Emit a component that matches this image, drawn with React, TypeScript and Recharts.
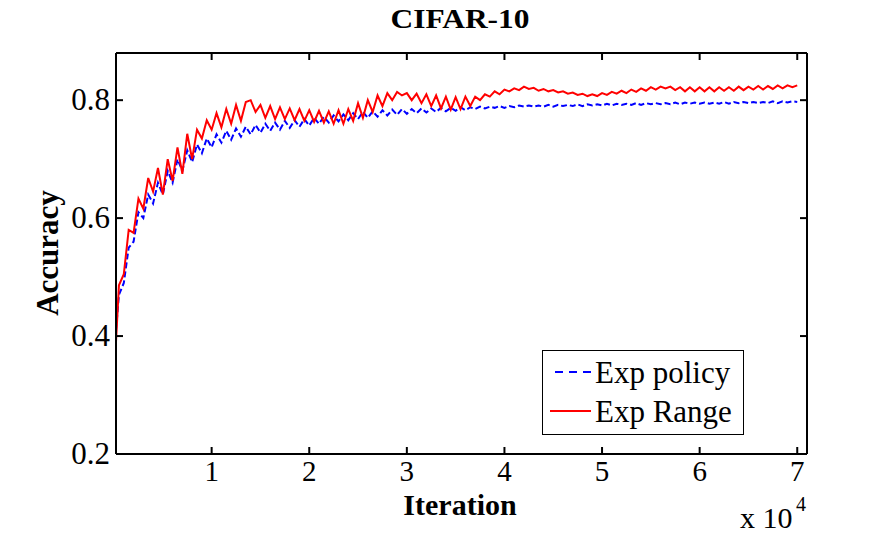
import React from 'react';
import { LineChart, Line, XAxis, YAxis, Legend, Customized } from 'recharts';

const iterations = [
  200, 500, 1000, 1500, 2000, 2500, 3000, 3500, 4000, 4500,
  5000, 5500, 6000, 6500, 7000, 7500, 8000, 8500, 9000, 9500,
  10000, 10500, 11000, 11500, 12000, 12500, 13000, 13500, 14000, 14500,
  15000, 15500, 16000, 16500, 17000, 17500, 18000, 18500, 19000, 19500,
  20000, 20500, 21000, 21500, 22000, 22500, 23000, 23500, 24000, 24500,
  25000, 25500, 26000, 26500, 27000, 27500, 28000, 28500, 29000, 29500,
  30000, 30500, 31000, 31500, 32000, 32500, 33000, 33500, 34000, 34500,
  35000, 35500, 36000, 36500, 37000, 37500, 38000, 38500, 39000, 39500,
  40000, 40500, 41000, 41500, 42000, 42500, 43000, 43500, 44000, 44500,
  45000, 45500, 46000, 46500, 47000, 47500, 48000, 48500, 49000, 49500,
  50000, 50500, 51000, 51500, 52000, 52500, 53000, 53500, 54000, 54500,
  55000, 55500, 56000, 56500, 57000, 57500, 58000, 58500, 59000, 59500,
  60000, 60500, 61000, 61500, 62000, 62500, 63000, 63500, 64000, 64500,
  65000, 65500, 66000, 66500, 67000, 67500, 68000, 68500, 69000, 69500,
  70000,
];

const expPolicy = [
  0.41, 0.47, 0.49, 0.55, 0.56, 0.61, 0.60, 0.64, 0.625, 0.66,
  0.64, 0.68, 0.66, 0.70, 0.68, 0.715, 0.695, 0.725, 0.71, 0.735,
  0.72, 0.742, 0.728, 0.748, 0.733, 0.752, 0.738, 0.755, 0.742, 0.758,
  0.745, 0.76, 0.748, 0.762, 0.75, 0.765, 0.753, 0.766, 0.755, 0.768,
  0.757, 0.77, 0.76, 0.772, 0.762, 0.774, 0.764, 0.776, 0.766, 0.778,
  0.768, 0.78, 0.77, 0.781, 0.772, 0.783, 0.774, 0.784, 0.775, 0.785,
  0.777, 0.785, 0.778, 0.786, 0.779, 0.786, 0.78, 0.787, 0.781, 0.787,
  0.782, 0.788, 0.783, 0.788, 0.785, 0.789, 0.786, 0.789, 0.787, 0.79,
  0.787, 0.79, 0.788, 0.791, 0.789, 0.791, 0.789, 0.791, 0.789, 0.792,
  0.789, 0.792, 0.79, 0.792, 0.79, 0.793, 0.79, 0.793, 0.791, 0.793,
  0.791, 0.794, 0.791, 0.794, 0.792, 0.794, 0.792, 0.795, 0.792, 0.795,
  0.793, 0.795, 0.793, 0.795, 0.793, 0.796, 0.793, 0.796, 0.794, 0.796,
  0.794, 0.796, 0.794, 0.796, 0.794, 0.797, 0.794, 0.797, 0.795, 0.797,
  0.795, 0.797, 0.795, 0.797, 0.795, 0.798, 0.795, 0.798, 0.796, 0.798,
  0.797,
];

const expRange = [
  0.39, 0.486, 0.505, 0.58, 0.575, 0.633, 0.616, 0.668, 0.645, 0.685,
  0.64, 0.70, 0.663, 0.72, 0.675, 0.743, 0.70, 0.75, 0.735, 0.766,
  0.75, 0.778, 0.754, 0.785, 0.76, 0.792, 0.765, 0.797, 0.80, 0.78,
  0.792, 0.77, 0.79, 0.768, 0.788, 0.768, 0.786, 0.766, 0.785, 0.765,
  0.783, 0.763, 0.782, 0.762, 0.781, 0.76, 0.783, 0.76, 0.785, 0.765,
  0.795, 0.77, 0.80, 0.78, 0.808, 0.79, 0.812, 0.80, 0.814, 0.808,
  0.812, 0.80, 0.811, 0.795, 0.81, 0.79, 0.808, 0.786, 0.806, 0.784,
  0.805, 0.785, 0.806, 0.79, 0.806, 0.80, 0.81, 0.806, 0.815, 0.81,
  0.818, 0.815, 0.82, 0.817, 0.823, 0.819, 0.821, 0.816, 0.819, 0.815,
  0.817, 0.813, 0.815, 0.811, 0.813, 0.809, 0.811, 0.807, 0.81, 0.807,
  0.812, 0.809, 0.814, 0.811, 0.816, 0.812, 0.818, 0.814, 0.82, 0.816,
  0.822, 0.818, 0.823, 0.82, 0.823, 0.817, 0.822, 0.815, 0.822, 0.815,
  0.822, 0.815, 0.822, 0.815, 0.822, 0.816, 0.822, 0.816, 0.823, 0.817,
  0.823, 0.818, 0.824, 0.818, 0.824, 0.819, 0.825, 0.82, 0.825, 0.822,
  0.825,
];

const xTicks = [10000, 20000, 30000, 40000, 50000, 60000, 70000];
const yTicks = [0.2, 0.4, 0.6, 0.8];
const seriesNames = ['Exp policy', 'Exp Range'];
const titleText = 'CIFAR-10';
const xLabel = 'Iteration';
const yLabel = 'Accuracy';

const data = iterations.map((it, i) => ({ it, policy: expPolicy[i], range: expRange[i] }));

const FONT = '"Liberation Serif", "Times New Roman", serif';

const XTickBottom = (props: any) => {
  const { x, y, payload } = props;
  return (
    <g>
      <line x1={x} x2={x} y1={y} y2={y - 7} stroke="#000" strokeWidth={2} />
      <text x={x} y={y + 27} textAnchor="middle" fontSize={29} fontFamily={FONT} fill="#000">
        {payload.value / 10000}
      </text>
    </g>
  );
};

const XTickTop = (props: any) => {
  const { x, y } = props;
  return <line x1={x} x2={x} y1={y} y2={y + 7} stroke="#000" strokeWidth={2} />;
};

const YTickLeft = (props: any) => {
  const { x, y, payload } = props;
  return (
    <g>
      <line x1={x} x2={x + 7} y1={y} y2={y} stroke="#000" strokeWidth={2} />
      <text x={x - 6} y={y + 10} textAnchor="end" fontSize={31} fontFamily={FONT} fill="#000">
        {payload.value.toFixed(1)}
      </text>
    </g>
  );
};

const YTickRight = (props: any) => {
  const { x, y } = props;
  return <line x1={x} x2={x - 7} y1={y} y2={y} stroke="#000" strokeWidth={2} />;
};

const Labels = () => (
  <g fontFamily={FONT} fill="#000">
    <text x={460} y={28} textAnchor="middle" fontSize={28} fontWeight="bold" textLength={139} lengthAdjust="spacingAndGlyphs">
      {titleText}
    </text>
    <text x={460} y={515} textAnchor="middle" fontSize={30} fontWeight="bold">
      {xLabel}
    </text>
    <text x={58} y={253} textAnchor="middle" fontSize={31} fontWeight="bold" transform="rotate(-90 58 253)">
      {yLabel}
    </text>
    <text x={740} y={528} fontSize={30}>x 10</text>
    <text x={796} y={511} fontSize={20}>4</text>
  </g>
);

const LegendBox = () => (
  <svg width={202} height={85} style={{ display: 'block' }}>
    <rect x={0.5} y={0.5} width={201} height={84} fill="#fff" stroke="#000" strokeWidth={1} />
    <line x1={13} x2={49} y1={22} y2={22} stroke="#0000ff" strokeWidth={2} strokeDasharray="8 6" />
    <text x={53} y={33} fontSize={31} fontFamily={FONT} fill="#000">{seriesNames[0]}</text>
    <line x1={8} x2={49} y1={61} y2={61} stroke="#ff0000" strokeWidth={2} />
    <text x={53} y={72} fontSize={31} fontFamily={FONT} fill="#000">{seriesNames[1]}</text>
  </svg>
);

const axisCommon = {
  type: 'number' as const,
  allowDataOverflow: true,
  tickSize: 0,
  tickMargin: 0,
  tickLine: false,
  axisLine: { stroke: '#000', strokeWidth: 2 },
};

export default function App() {
  return (
    <div style={{ position: 'absolute', left: 0, top: 0, width: 893, height: 533, background: '#fff' }}>
      <LineChart width={893} height={533} data={data} margin={{ top: 23, right: 26, bottom: 49, left: 56 }}>
        <XAxis
          {...axisCommon}
          xAxisId="b"
          dataKey="it"
          domain={[200, 71000]}
          ticks={xTicks}
          height={30}
          tick={<XTickBottom />}
        />
        <XAxis
          {...axisCommon}
          xAxisId="t"
          orientation="top"
          dataKey="it"
          domain={[200, 71000]}
          ticks={xTicks}
          height={30}
          tick={<XTickTop />}
        />
        <YAxis
          {...axisCommon}
          yAxisId="l"
          domain={[0.2, 0.88]}
          ticks={yTicks}
          width={60}
          tick={<YTickLeft />}
        />
        <YAxis
          {...axisCommon}
          yAxisId="r"
          orientation="right"
          domain={[0.2, 0.88]}
          ticks={yTicks}
          width={60}
          tick={<YTickRight />}
        />
        <Line
          xAxisId="b"
          yAxisId="l"
          dataKey="policy"
          name={seriesNames[0]}
          stroke="#0000ff"
          strokeWidth={2}
          strokeDasharray="6 3"
          dot={false}
          isAnimationActive={false}
        />
        <Line
          xAxisId="b"
          yAxisId="l"
          dataKey="range"
          name={seriesNames[1]}
          stroke="#ff0000"
          strokeWidth={2}
          dot={false}
          isAnimationActive={false}
        />
        <Line
          xAxisId="t"
          yAxisId="r"
          dataKey="range"
          stroke="none"
          strokeOpacity={0}
          dot={false}
          activeDot={false}
          legendType="none"
          isAnimationActive={false}
        />
        <Customized component={Labels} />
        <Legend
          layout="vertical"
          align="center"
          verticalAlign="middle"
          wrapperStyle={{ position: 'absolute', left: 542, top: 350, width: 202, height: 85 }}
          content={() => <LegendBox />}
        />
      </LineChart>
    </div>
  );
}
